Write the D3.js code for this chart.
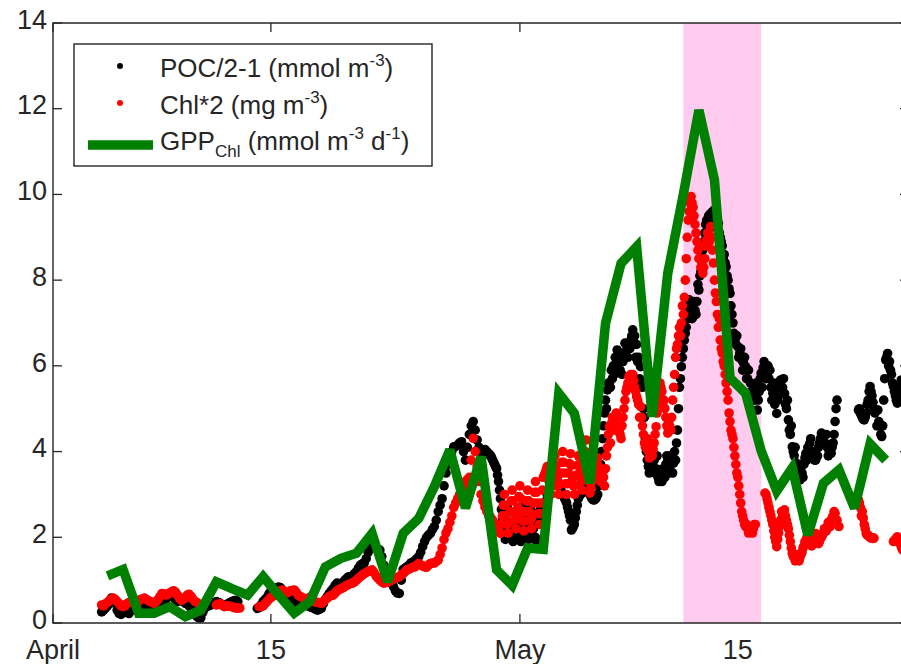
<!DOCTYPE html>
<html><head><meta charset="utf-8">
<script src="https://cdn.jsdelivr.net/npm/d3@7"></script>
<style>
body{margin:0;background:#fff}
svg{display:block}
text{font-family:"Liberation Sans",Arial,Helvetica,sans-serif;fill:#262626}
</style>
</head><body>
<svg id="c" width="901" height="664"></svg>
<script>
// ---------- data ----------
const xStart = "2015-04-01T00:00:00Z", xEnd = "2015-05-26T00:00:00Z";
const xTickDates = ["2015-04-01T00:00:00Z","2015-04-15T00:00:00Z","2015-05-01T00:00:00Z","2015-05-15T00:00:00Z"];
const xTickLabels = ["April","15","May","15"];
const yTicks = [0,2,4,6,8,10,12,14];
const shadeStart = "2015-05-11T12:00:00Z", shadeEnd = "2015-05-16T12:00:00Z";

// sensor samples every 3 h starting 4 April 00:00 (one row = one day)
const sampleStart = "2015-04-04T00:00:00Z";
const sampleStepHours = 3;
const poc = [
 null,0.26,0.30,0.35,0.40,0.50,0.58,0.55,
 0.45,0.30,0.22,0.20,0.30,0.32,0.25,0.22,
 0.30,0.35,0.30,0.33,0.40,0.38,0.35,0.38,
 0.45,0.42,0.38,0.40,0.42,0.45,0.40,0.45,
 0.50,0.52,0.55,0.62,0.67,0.65,0.60,0.55,
 0.50,0.52,0.55,0.50,0.46,0.44,0.40,0.35,
 0.30,0.22,0.15,0.12,0.12,0.25,0.35,0.38,
 0.40,0.42,0.45,0.48,0.50,0.48,0.46,0.42,
 0.40,0.42,0.45,0.48,0.50,0.52,0.53,0.50,
 null,null,null,null,null,null,null,null,
 null,0.34,0.36,0.42,0.50,0.55,0.60,0.68,
 0.75,0.78,0.80,0.82,0.84,0.82,0.75,0.70,
 0.65,0.62,0.60,0.58,0.55,0.50,0.45,0.42,
 0.40,0.42,0.42,0.40,0.38,0.36,0.35,0.32,
 0.30,0.32,0.35,0.45,0.55,0.62,0.69,0.75,
 0.80,0.88,0.93,0.90,0.90,0.95,1.00,1.04,
 1.08,1.08,1.10,1.15,1.20,1.28,1.35,1.38,
 1.40,1.50,1.65,1.78,1.86,1.80,1.75,1.72,
 1.70,1.55,1.35,1.20,1.05,1.00,0.95,0.85,
 0.75,0.70,0.69,1.00,1.25,1.28,1.31,1.35,
 1.40,1.42,1.45,1.50,1.55,1.65,1.78,1.90,
 2.00,2.05,2.09,2.18,2.25,2.40,2.60,2.75,
 2.90,3.20,3.50,3.70,3.90,4.00,4.11,4.12,
 4.15,4.20,4.23,4.00,3.80,4.10,4.40,4.60,
 4.70,4.50,4.27,4.10,3.96,4.00,4.05,4.00,
 3.95,3.90,3.80,3.70,3.60,3.30,2.90,2.40,
 2.10,2.40,2.60,2.30,2.00,2.30,2.50,2.20,
 2.00,2.30,2.60,2.30,2.05,2.30,2.55,2.20,
 2.00,2.30,2.60,2.50,2.40,2.70,3.00,3.10,
 3.18,3.30,3.50,3.40,3.20,3.10,3.00,2.90,
 2.80,2.60,2.40,2.20,2.30,2.60,2.90,3.00,
 3.03,3.10,3.18,3.10,3.00,2.90,2.87,2.90,
 3.00,3.40,4.00,4.60,5.20,5.44,5.60,5.90,
 6.00,6.20,6.37,6.30,6.20,6.10,6.53,6.40,
 6.53,6.60,6.84,6.70,6.50,6.20,5.98,5.50,
 4.80,4.00,3.65,3.60,3.70,3.80,3.60,3.40,
 3.34,3.30,3.50,3.70,3.80,3.60,3.75,3.73,
 3.80,4.50,5.50,5.98,6.40,6.76,7.10,7.54,
 7.40,7.15,7.30,7.50,7.77,8.20,8.70,9.10,
 9.40,9.50,9.55,9.60,9.64,9.50,9.33,9.00,
 8.80,8.60,8.31,8.00,7.69,7.20,6.76,6.50,
 6.45,6.30,6.14,6.06,5.98,5.70,5.36,5.40,
 5.52,5.30,4.97,5.40,5.83,5.95,5.98,5.80,
 5.70,5.50,5.36,5.10,4.89,5.30,5.67,5.50,
 5.36,5.00,4.74,4.40,4.11,3.90,3.73,3.50,
 3.34,3.50,3.70,3.96,4.10,4.19,4.00,3.90,
 3.80,3.90,4.20,4.43,4.30,4.19,4.10,4.00,
 3.96,4.20,4.70,5.20,null,null,null,null,
 null,null,null,null,null,null,4.97,4.90,
 4.80,4.74,4.90,5.20,5.52,5.30,5.00,4.97,
 4.97,4.60,4.35,5.20,6.14,6.29,6.10,5.80,
 5.52,5.30,5.13,5.40,5.67,5.50,5.40,5.30
];
const chl = [
 null,0.42,0.40,0.45,0.48,0.53,0.56,0.58,
 0.55,0.50,0.45,0.40,0.38,0.40,0.45,0.48,
 0.50,0.48,0.45,0.48,0.50,0.55,0.56,0.58,
 0.55,0.52,0.50,0.48,0.46,0.50,0.55,0.62,
 0.69,0.68,0.65,0.67,0.70,0.73,0.75,0.72,
 0.65,0.58,0.53,0.56,0.60,0.65,0.67,0.62,
 0.55,0.50,0.48,null,null,null,null,null,
 null,null,null,null,0.42,0.44,0.45,0.42,
 0.38,0.39,0.40,0.39,0.38,0.36,0.35,0.35,
 0.35,null,null,null,null,null,null,null,
 null,null,0.38,0.38,0.40,0.45,0.50,0.55,
 0.60,0.62,0.65,0.68,0.72,0.75,0.77,0.73,
 0.70,0.72,0.75,0.76,0.77,0.72,0.65,0.62,
 0.60,0.57,0.55,0.57,0.60,0.55,0.50,0.49,
 0.48,0.47,0.46,0.50,0.55,0.58,0.62,0.64,
 0.65,0.70,0.75,0.78,0.80,0.82,0.85,0.88,
 0.90,0.92,0.93,0.96,1.00,1.04,1.08,1.12,
 1.15,1.18,1.20,1.22,1.24,1.18,1.10,1.05,
 1.00,0.96,0.93,0.94,0.95,0.98,1.00,1.03,
 1.05,1.06,1.08,1.12,1.15,1.20,1.24,1.26,
 1.28,1.30,1.31,1.35,1.39,1.36,1.33,1.31,
 1.30,1.35,1.39,1.40,1.40,1.43,1.47,1.60,
 1.75,1.95,2.10,2.20,2.35,2.50,2.70,2.80,
 2.90,3.00,3.05,3.15,3.30,3.35,3.40,3.80,
 4.31,4.00,3.65,3.30,3.00,2.85,2.71,2.60,
 2.50,2.45,2.40,2.30,2.20,2.15,2.09,2.50,
 3.00,2.50,2.10,2.60,3.10,2.60,2.20,2.70,
 3.20,2.60,2.15,2.60,3.10,2.60,2.20,2.80,
 3.30,2.80,2.30,2.80,3.40,3.50,3.65,3.30,
 3.00,3.50,3.90,3.40,3.00,3.50,4.00,3.50,
 3.00,3.50,3.95,3.40,3.00,3.45,3.90,3.50,
 3.10,3.70,4.27,3.60,3.03,3.30,3.50,3.70,
 3.85,3.50,3.30,3.40,3.60,4.10,4.58,4.65,
 4.70,4.75,4.81,4.50,4.30,4.80,5.20,5.50,
 5.75,5.80,5.80,5.50,5.28,5.10,5.05,4.60,
 4.20,4.10,4.00,3.95,3.90,4.20,4.58,5.10,
 5.60,5.40,5.20,4.80,4.43,4.60,4.80,5.50,
 6.20,6.50,6.90,7.00,7.20,8.00,9.00,9.60,
 9.95,9.70,9.30,8.90,8.50,8.30,8.16,8.50,
 8.94,9.10,9.25,8.70,8.00,7.50,6.90,6.60,
 6.30,6.00,5.60,5.20,4.70,4.40,4.10,3.70,
 3.40,3.00,2.60,2.40,2.25,2.20,2.17,2.20,
 2.20,2.30,null,null,null,null,3.03,2.90,
 2.70,2.50,2.30,2.00,1.78,2.10,2.40,2.50,
 2.64,2.40,2.20,1.90,1.63,1.55,1.50,1.52,
 1.54,1.65,1.80,1.90,2.01,1.90,1.80,1.95,
 2.09,2.00,1.90,2.00,2.10,2.18,2.25,2.30,
 2.40,2.50,2.56,2.40,2.25,null,null,null,
 null,null,null,null,null,null,2.87,2.70,
 2.60,2.30,2.09,2.05,2.00,1.99,1.98,null,
 null,null,null,null,null,null,null,null,
 1.90,1.95,2.01,1.90,1.78,1.70,1.65,1.62
];
// extra samples read in the dense stretch 29 April - 25 May (1.5 h offset, every 3 h, one row = one day)
const extraStart = "2015-04-29T01:30:00Z";
const pocExtra = [
 3.92,3.85,3.75,3.65,3.45,3.10,2.65,2.20,
 1.95,2.70,2.30,2.10,1.90,2.60,2.30,2.00,
 1.90,2.70,2.40,2.10,1.95,2.65,2.35,2.00,
 1.90,2.50,2.75,2.30,2.55,2.85,3.05,3.15,
 3.25,3.45,3.45,3.30,3.15,3.05,2.95,2.85,
 2.70,2.50,2.17,2.25,2.45,2.75,2.95,3.02,
 3.06,3.14,3.14,3.05,2.95,2.88,2.88,2.95,
 3.20,3.70,4.30,4.90,5.00,5.60,5.50,5.70,
 5.80,6.00,6.10,5.90,5.80,6.30,6.20,6.20,
 6.40,6.70,6.50,6.20,6.10,5.70,5.60,5.00,
 4.30,3.80,3.50,3.85,3.60,3.50,3.90,3.30,
 3.50,3.60,3.40,3.90,3.50,3.90,3.50,4.00,
 4.20,5.00,5.70,6.20,6.60,6.90,7.30,7.20,
 7.10,7.50,7.20,7.90,8.10,8.50,8.90,9.30,
 9.20,9.40,9.35,9.45,9.30,9.20,9.10,8.90,
 8.50,8.40,8.10,7.80,7.40,7.00,6.60,6.70,
 6.20,6.40,5.90,6.20,5.70,5.90,5.60,5.20,
 5.20,5.60,5.20,5.70,5.50,6.10,5.70,6.00,
 5.90,5.20,5.60,5.40,5.20,5.50,5.40,5.70,
 5.10,5.20,4.50,4.60,4.00,4.10,3.60,3.70,
 3.45,3.40,3.85,3.80,4.00,4.30,3.90,3.80,
 3.90,4.10,4.30,4.30,4.20,4.40,3.90,4.10,
 4.10,4.40,5.00,null,null,null,null,null,
 null,null,null,null,null,null,5.00,4.85,
 4.75,4.80,5.10,5.40,5.40,5.15,4.90,4.60,
 4.70,4.40,4.60,5.70,6.20,6.00,5.90,5.60,
 5.40,5.20,5.30,5.55,5.60,5.45,5.35,5.30
];
const chlExtra = [
 2.48,2.42,2.35,2.25,2.18,2.12,2.30,2.75,
 2.75,2.30,2.35,2.85,2.85,2.40,2.45,2.95,
 2.90,2.38,2.38,2.85,2.85,2.40,2.50,3.05,
 3.05,2.55,2.55,3.10,3.45,3.57,3.48,3.15,
 3.25,3.70,3.65,3.20,3.25,3.75,3.75,3.25,
 3.25,3.72,3.68,3.20,3.22,3.68,3.70,3.30,
 3.40,4.00,3.95,3.30,3.15,3.40,3.60,3.78,
 3.65,3.30,3.50,3.20,3.90,4.40,4.20,4.80,
 4.50,4.90,4.60,4.40,4.60,5.00,5.40,5.60,
 5.60,5.50,5.65,5.40,5.20,4.80,4.80,4.40,
 4.10,4.30,3.85,4.10,4.05,4.40,4.90,5.30,
 5.50,5.10,5.00,4.60,4.70,4.50,5.20,5.80,
 6.40,6.70,6.70,7.40,7.60,8.50,9.40,9.80,
 9.80,9.50,9.10,8.70,8.80,8.40,8.30,8.80,
 9.10,8.90,9.00,8.40,7.70,7.20,7.10,6.40,
 6.10,5.80,5.40,4.90,4.50,4.30,3.90,3.50,
 3.20,2.80,2.50,2.30,2.30,2.10,2.25,2.10,
 2.30,null,null,null,null,null,3.00,2.80,
 2.60,2.40,2.15,1.90,1.95,2.25,2.60,2.40,
 2.50,2.30,2.05,1.75,1.55,1.45,1.60,1.45,
 1.60,1.75,1.90,2.00,1.85,1.95,1.85,2.05,
 2.05,1.85,2.00,2.05,2.20,2.15,2.35,2.25,
 2.45,2.60,2.40,null,null,null,null,null,
 null,null,null,null,null,null,2.80,2.50,
 2.45,2.20,2.05,2.02,1.98,1.97,null,null,
 null,null,null,null,null,null,null,null,
 1.92,1.98,1.95,1.85,1.72,1.68,1.62,1.60
];
// daily GPP, one value per day at noon starting 4 April
const gppStart = "2015-04-04T12:00:00Z";
const gpp = [1.10,1.25,0.23,0.23,0.38,0.15,0.30,0.96,0.80,0.65,1.08,0.65,0.23,0.50,1.31,1.51,1.63,
 2.09,0.96,2.09,2.44,3.18,4.04,2.68,3.88,1.24,0.88,1.75,1.72,5.36,4.89,3.26,6.99,8.39,8.78,4.81,
 8.16,10.0,11.97,10.34,5.72,5.36,4.02,3.08,3.62,2.05,3.26,3.57,2.68,4.18,3.80];

const legendLabels = [
  {main:"POC/2-1 (mmol m", sup:"-3", tail:")"},
  {main:"Chl*2 (mg m", sup:"-3", tail:")"},
];

// ---------- drawing ----------
const svg = d3.select("#c");
const L = 53, T = 23, B = 623, R = 909;
const AX = "#262626";
const x = d3.scaleUtc().domain([new Date(xStart), new Date(xEnd)]).range([L, R]);
const y = d3.scaleLinear().domain([0,14]).range([B, T]);
const HOUR = 3600e3;

function samples(vals, start, stepH){
  const s = new Date(start).getTime();
  return vals.map((v,i)=>({t:new Date(s+i*stepH*HOUR), v})).filter(d=>d.v!=null);
}
const pocPts = samples(poc, sampleStart, sampleStepHours).concat(samples(pocExtra, extraStart, sampleStepHours));
const chlPts = samples(chl, sampleStart, sampleStepHours).concat(samples(chlExtra, extraStart, sampleStepHours));
const gppPts = samples(gpp, gppStart, 24);

svg.append("defs").append("clipPath").attr("id","clip")
  .append("rect").attr("x",L).attr("y",T).attr("width",R-L).attr("height",B-T);

// ticks (drawn under data, like MATLAB layer bottom)
const tickLen = 9;
const tg = svg.append("g").attr("stroke",AX).attr("stroke-width",1.3);
yTicks.forEach(v=>{
  tg.append("line").attr("x1",L).attr("x2",L+tickLen).attr("y1",y(v)).attr("y2",y(v));
  tg.append("line").attr("x1",R).attr("x2",R-tickLen).attr("y1",y(v)).attr("y2",y(v));
});
xTickDates.forEach(d=>{
  const xx = x(new Date(d));
  tg.append("line").attr("x1",xx).attr("x2",xx).attr("y1",B).attr("y2",B-tickLen);
  tg.append("line").attr("x1",xx).attr("x2",xx).attr("y1",T).attr("y2",T+tickLen);
});

const plot = svg.append("g").attr("clip-path","url(#clip)");
// shaded bloom period
plot.append("rect")
  .attr("x", x(new Date(shadeStart))).attr("y", T)
  .attr("width", x(new Date(shadeEnd)) - x(new Date(shadeStart)))
  .attr("height", B-T).attr("fill","#FFCCF0");

const R_DOT = 4.8;
plot.append("g").selectAll("circle").data(pocPts).join("circle")
  .attr("cx",d=>x(d.t)).attr("cy",d=>y(d.v)).attr("r",R_DOT).attr("fill","#000");
plot.append("g").selectAll("circle").data(chlPts).join("circle")
  .attr("cx",d=>x(d.t)).attr("cy",d=>y(d.v)).attr("r",R_DOT).attr("fill","#FF0000");

plot.append("path").datum(gppPts)
  .attr("d", d3.line().x(d=>x(d.t)).y(d=>y(d.v)))
  .attr("fill","none").attr("stroke","#008000").attr("stroke-width",9.5)
  .attr("stroke-linejoin","miter").attr("stroke-miterlimit",3);

// axes box
const bx = svg.append("g").attr("stroke",AX).attr("stroke-width",1.4).attr("fill","none");
bx.append("path").attr("d",`M${L},${T}V${B}H${R}V${T}Z`);

// tick labels
const fs = 27;
yTicks.forEach(v=>{
  svg.append("text").attr("x",L-6).attr("y",y(v)-4).attr("dy","0.36em")
    .attr("text-anchor","end").attr("font-size",fs).text(v);
});
xTickDates.forEach((d,i)=>{
  svg.append("text").attr("x",x(new Date(d))).attr("y",B+36)
    .attr("text-anchor","middle").attr("font-size",fs).text(xTickLabels[i]);
});

// legend
const lg = svg.append("g");
lg.append("rect").attr("x",74).attr("y",44).attr("width",358).attr("height",122)
  .attr("fill","#fff").attr("stroke",AX).attr("stroke-width",1.4);
const lfs = 26, supfs = 17;
const rows = [66, 103, 145];
lg.append("circle").attr("cx",120).attr("cy",rows[0]).attr("r",3).attr("fill","#000");
lg.append("circle").attr("cx",120).attr("cy",rows[1]).attr("r",3).attr("fill","#FF0000");
lg.append("line").attr("x1",88).attr("x2",153).attr("y1",rows[2]).attr("y2",rows[2])
  .attr("stroke","#008000").attr("stroke-width",9.5);
legendLabels.forEach((lab,i)=>{
  const t = lg.append("text").attr("x",160).attr("y",rows[i]+11).attr("font-size",lfs);
  t.append("tspan").text(lab.main);
  t.append("tspan").attr("font-size",supfs).attr("dy",-11).text(lab.sup);
  t.append("tspan").attr("dy",11).text(lab.tail);
});
{
  const t = lg.append("text").attr("x",160).attr("y",rows[2]+5).attr("font-size",lfs);
  t.append("tspan").text("GPP");
  t.append("tspan").attr("font-size",supfs).attr("dy",7).text("Chl");
  t.append("tspan").attr("dy",-7).text(" (mmol m");
  t.append("tspan").attr("font-size",supfs).attr("dy",-11).text("-3");
  t.append("tspan").attr("dy",11).text(" d");
  t.append("tspan").attr("font-size",supfs).attr("dy",-11).text("-1");
  t.append("tspan").attr("dy",11).text(")");
}
</script>
</body></html>
